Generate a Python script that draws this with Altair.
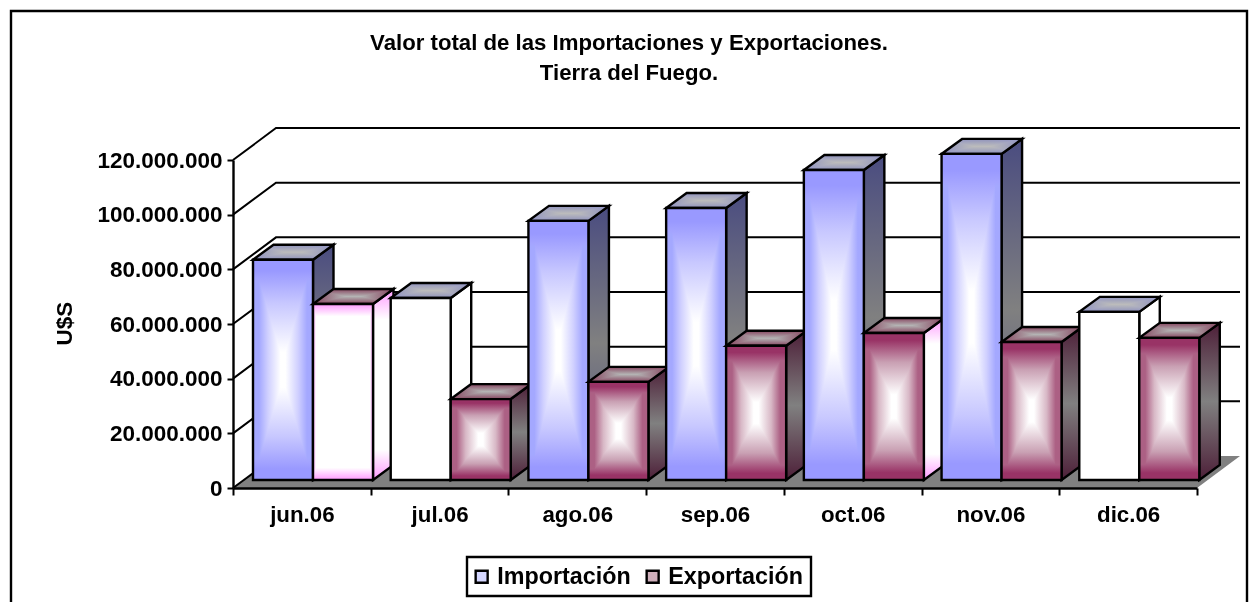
import altair as alt
import pandas as pd

months = ["jun.06", "jul.06", "ago.06", "sep.06", "oct.06", "nov.06", "dic.06"]
importacion = [80.6e6, 66.6e6, 94.8e6, 99.5e6, 113.4e6, 119.3e6, 61.5e6]
exportacion = [64.4e6, 29.6e6, 35.9e6, 49.1e6, 53.8e6, 50.5e6, 52.0e6]
grid_values = [0, 20e6, 40e6, 60e6, 80e6, 100e6, 120e6]
title_lines = ["Valor total de las Importaciones y Exportaciones.", "Tierra del Fuego."]

W, H = 964, 328
UX = W / 7            # px per category
UV = 120e6 / H        # value per px
FONT = "Liberation Sans"

WALL_X, WALL_V = 43 / UX, 32 * UV     # back wall depth
BAR_X0, BAR_W = 20 / UX, 60 / UX
BASE_V = 8 * UV
SIDE_X, SIDE_V = 20.5 / UX, 15 * UV
LW = 2.4

Y_AXIS = alt.Axis(values=grid_values, grid=False, title="U$S", titleFont=FONT, titleFontSize=22.5,
                  titleFontWeight="bold", titleColor="black", titleX=-157, titleY=163, titleAngle=270,
                  labelFont=FONT, labelFontSize=22.5, labelFontWeight="bold", labelColor="black",
                  labelPadding=5, tickSize=6, tickWidth=2, tickColor="black", domainColor="black",
                  domainWidth=2.4, zindex=1,
                  labelExpr="replace(format(datum.value, ','), /,/g, '.')")


def xq(field="x"):
    return alt.X(f"{field}:Q", scale=alt.Scale(domain=[0, 7], nice=False, zero=False), axis=None)


def yq(field="y"):
    return alt.Y(f"{field}:Q", scale=alt.Scale(domain=[0, 120e6], nice=False, zero=False), axis=Y_AXIS)


def grad(stops, vertical=True):
    n = [{"offset": o, "color": c} for o, c in stops]
    return {"gradient": "linear", "stops": n, "x1": 0, "y1": 0, "x2": 0 if vertical else 1, "y2": 1 if vertical else 0}


def front_v(edge, mid):
    return [(0, edge), (0.05, edge), (0.2, mid), (0.42, "#ffffff"), (0.58, "#ffffff"), (0.8, mid), (0.95, edge), (1, edge)]


def front_h(edge, mid):
    return [(0, edge), (0.1, edge), (0.25, mid), (0.46, "#ffffff"), (0.54, "#ffffff"), (0.75, mid), (0.9, edge), (1, edge)]


def top_h(edge, centre):
    return [(0, edge), (0.4, centre), (0.6, centre), (1, edge)]


def top_v(edge, centre):
    return [(0, edge), (0.5, centre), (1, edge)]


STY = {
    "imp": dict(fv=front_v("#9999ff", "#c8c8ff"), fh=front_h("#a4a8ff", "#d0d0ff"),
                side=[(0, "#4a4c80"), (0.5, "#808080"), (1, "#4a4c80")],
                th=top_h("#8f92c6", "#bcbcbc"), tv=top_v("#8f92c6", "#bcbcbc")),
    "exp": dict(fv=front_v("#993366", "#c9a0b3"), fh=front_h("#ac6084", "#d8b8c6"),
                side=[(0, "#4d1f38"), (0.5, "#808080"), (1, "#4d1f38")],
                th=top_h("#86445f", "#b4b4b4"), tv=top_v("#86445f", "#b4b4b4")),
}
WHITE = [(0, "#ffffff"), (1, "#ffffff")]
PINK_V = [(0, "#ff99ff"), (0.035, "#ffccff"), (0.07, "#ffffff"), (0.93, "#ffffff"), (0.965, "#ffccff"), (1, "#ff99ff")]
PINK_H = [(0, "#ff99ff"), (0.05, "#ffffff"), (0.95, "#ffffff"), (1, "#ff99ff")]
PINK_SIDE = [(0, "#ff99ff"), (0.16, "#ffffff"), (0.84, "#ffffff"), (1, "#ff99ff")]

white_front = {("imp", 1), ("imp", 6)}
pink_front = {("exp", 0)}
white_side = {("imp", 1), ("imp", 6)}
pink_side = {("exp", 0), ("exp", 4)}

layers = []

# frame (open at the bottom, where the picture is cut)
FX0, FX1 = (11 - 233) / UX, (1247 - 233) / UX
FV1, FV0 = (488 - 11) * UV, (488 - 610) * UV
frame = pd.DataFrame({"x": [FX0, FX0, FX1, FX1], "y": [FV0, FV1, FV1, FV0], "o": [0, 1, 2, 3]})
layers.append(alt.Chart(frame).mark_line(color="black", strokeWidth=2.4, clip=False).encode(
    x=xq(), y=yq(), order="o:Q"))

# floor
floor = pd.DataFrame({"y": [0, WALL_V], "x": [0, WALL_X], "x2": [7, 7 + WALL_X]})
layers.append(alt.Chart(floor).mark_area(orient="horizontal", color="#808080", clip=False).encode(
    x=xq(), x2="x2:Q", y=yq()))

# wall grid
rows = []
for v in grid_values:
    if v > 0:
        rows += [dict(g=v, o=0, x=0, y=v), dict(g=v, o=1, x=WALL_X, y=v + WALL_V), dict(g=v, o=2, x=7 + WALL_X, y=v + WALL_V)]
    else:
        rows += [dict(g=v, o=0, x=0, y=0), dict(g=v, o=1, x=WALL_X, y=WALL_V)]
layers.append(alt.Chart(pd.DataFrame(rows)).mark_line(color="black", strokeWidth=2, clip=False).encode(
    x=xq(), y=yq(), detail="g:N", order="o:Q"))


def area_side(x0, top, stops):
    d = pd.DataFrame({"x": [x0 + BAR_W, x0 + BAR_W + SIDE_X],
                      "y": [BASE_V, BASE_V + SIDE_V],
                      "y2": [top, top + SIDE_V]})
    base = alt.Chart(d)
    enc = dict(x=xq(), y=yq(), y2="y2:Q")
    return [base.mark_area(fill=grad(stops), clip=False).encode(**enc),
            base.mark_area(fillOpacity=0, stroke="black", strokeWidth=LW, clip=False).encode(**enc)]


def area_top(x0, top, sh, sv):
    d = pd.DataFrame({"y": [top, top + SIDE_V],
                      "x": [x0, x0 + SIDE_X],
                      "x2": [x0 + BAR_W, x0 + BAR_W + SIDE_X]})
    base = alt.Chart(d)
    enc = dict(y=yq(), x=xq(), x2="x2:Q")
    return [base.mark_area(orient="horizontal", fill=grad(sh, False), clip=False).encode(**enc),
            base.mark_area(orient="horizontal", fill=grad(sv, True), blend="darken", clip=False).encode(**enc),
            base.mark_area(orient="horizontal", fillOpacity=0, stroke="black", strokeWidth=LW, clip=False).encode(**enc)]


def rect_front(x0, top, sv, sh):
    d = pd.DataFrame({"x": [x0], "x2": [x0 + BAR_W], "y": [BASE_V], "y2": [top]})
    base = alt.Chart(d)
    enc = dict(x=xq(), x2="x2:Q", y=yq(), y2="y2:Q")
    return [base.mark_rect(fill=grad(sv), clip=False).encode(**enc),
            base.mark_rect(fill=grad(sh, False), blend="darken", clip=False).encode(**enc),
            base.mark_rect(fillOpacity=0, stroke="black", strokeWidth=LW, clip=False).encode(**enc)]


for i in range(len(months)):
    for k, (key, series) in enumerate((("imp", importacion), ("exp", exportacion))):
        x0 = i + BAR_X0 + k * BAR_W
        top = series[i] + BASE_V
        st = STY[key]
        if (key, i) in white_side:
            s = WHITE
        elif (key, i) in pink_side:
            s = PINK_SIDE
        else:
            s = st["side"]
        if (key, i) in white_front:
            fv, fh = WHITE, WHITE
        elif (key, i) in pink_front:
            fv, fh = PINK_V, PINK_H
        else:
            fv, fh = st["fv"], st["fh"]
        layers += area_side(x0, top, s)
        layers += area_top(x0, top, st["th"], st["tv"])
        layers += rect_front(x0, top, fv, fh)

# x axis
x_axis = alt.Chart(pd.DataFrame({"m": months})).mark_point(opacity=0, size=1).encode(
    x=alt.X("m:N", sort=months, scale=alt.Scale(type="band", domain=months, paddingInner=0, paddingOuter=0),
            axis=alt.Axis(title=None, tickBand="extent", labelAngle=0, labelFont=FONT, labelFontSize=22.3,
                          labelFontWeight="bold", labelColor="black", labelPadding=8, tickSize=7, tickWidth=2,
                          tickColor="black", domainColor="black", domainWidth=2.4, zindex=1)),
)

legend_df = pd.DataFrame({"s": ["Importación", "Exportación"]})
legend_layer = alt.Chart(legend_df).mark_square(opacity=0, size=1).encode(
    color=alt.Color("s:N", sort=["Importación", "Exportación"],
                    scale=alt.Scale(domain=["Importación", "Exportación"], range=["#d4d6ff", "#d0b0bc"]),
                    legend=alt.Legend(title=None, orient="none", legendX=234, legendY=397, direction="horizontal",
                                      columns=2, symbolType="square", symbolSize=144, symbolOpacity=1,
                                      symbolStrokeColor="black", symbolStrokeWidth=2.4, symbolOffset=-5,
                                      labelFont=FONT, labelFontSize=23.3, labelFontWeight="bold", labelColor="black",
                                      strokeColor="black", fillColor="white", padding=8,
                                      columnPadding=10, labelOffset=4, labelLimit=300)),
)

chart = alt.layer(x_axis, alt.layer(*layers), legend_layer).resolve_scale(x="independent").properties(
    width=W, height=H,
    padding={"left": 225, "top": 152, "right": 53, "bottom": 114},
    autosize=alt.AutoSizeParams(type="none"),
    title=alt.TitleParams(text=title_lines, font=FONT, fontSize=22.2, fontWeight="bold", color="black",
                          anchor="middle", dx=-86, offset=-78, lineHeight=30),
).configure_view(stroke=None).configure_legend(strokeWidth=2.4)

chart.save("out.html", embed_options={"renderer": "svg", "actions": False})
